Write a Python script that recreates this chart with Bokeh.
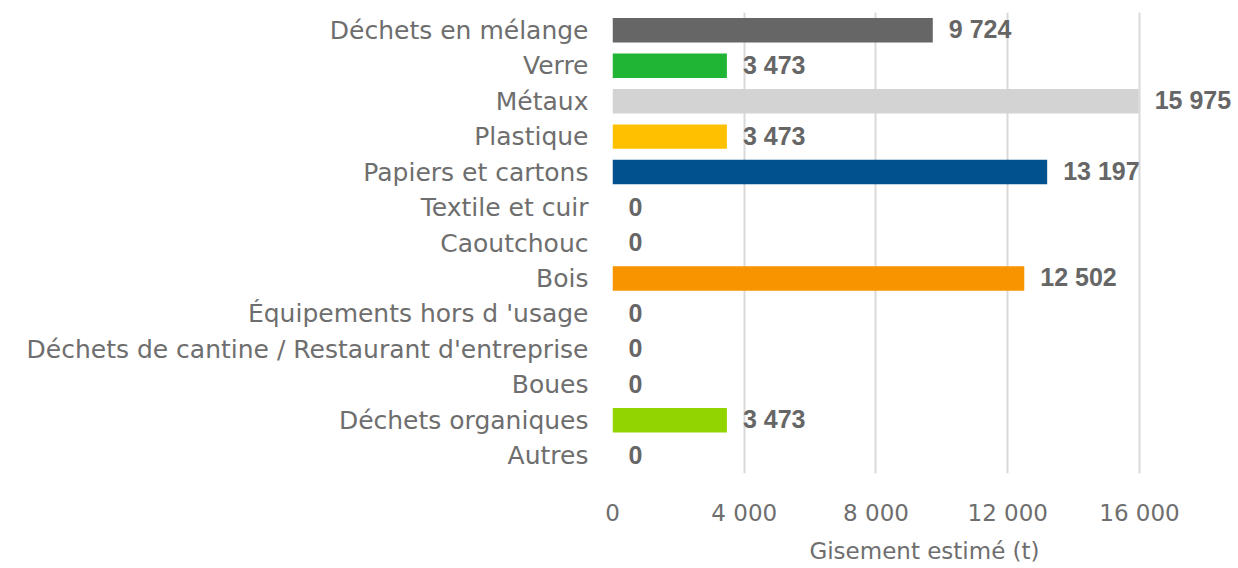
from bokeh.plotting import figure
from bokeh.models import ColumnDataSource, FactorRange, Range1d, FixedTicker, LabelSet, CustomJSTickFormatter
from bokeh.core.properties import value
from bokeh.embed import file_html
from bokeh.resources import INLINE

categories = ["Déchets en mélange", "Verre", "Métaux", "Plastique", "Papiers et cartons",
              "Textile et cuir", "Caoutchouc", "Bois", "Équipements hors d 'usage",
              "Déchets de cantine / Restaurant d'entreprise", "Boues", "Déchets organiques", "Autres"]
values = [9724, 3473, 15975, 3473, 13197, 0, 0, 12502, 0, 0, 0, 3473, 0]
colors = ["#666666", "#20B534", "#D3D3D3", "#FFC000", "#02518F", "#666666", "#666666",
          "#F79400", "#666666", "#666666", "#666666", "#92D400", "#666666"]
labels = ["9 724", "3 473", "15 975", "3 473", "13 197", "0", "0", "12 502", "0", "0", "0", "3 473", "0"]
x_ticks = [0, 4000, 8000, 12000, 16000]

src = ColumnDataSource(dict(cat=categories, val=values, col=colors, lab=labels))

p = figure(width=1236, height=566, y_range=FactorRange(*reversed(categories), range_padding=0),
           x_range=Range1d(0, 18945), output_backend="svg", toolbar_location=None,
           min_border_left=612, min_border_right=0, min_border_top=12, min_border_bottom=84)
p.hbar(y="cat", right="val", height=0.69, fill_color="col", line_color=None, source=src)

ls = LabelSet(x="val", y="cat", text="lab", source=src, x_offset=16, y_offset=1,
              text_baseline="middle", text_font=value("Liberation Sans"), text_font_style="bold",
              text_font_size=value("25px"), text_color="#666666")
p.add_layout(ls)

p.outline_line_color = None
p.ygrid.grid_line_color = None
p.xgrid.grid_line_color = "#D9D9D9"
p.xgrid.grid_line_width = 2
p.xaxis.ticker = FixedTicker(ticks=x_ticks)
p.xaxis.formatter = CustomJSTickFormatter(code="return tick == 0 ? '0' : (tick/1000).toFixed(0) + '\u00a0000';")
p.xaxis.axis_line_color = None
p.xaxis.major_tick_line_color = None
p.xaxis.major_tick_out = 0
p.xaxis.minor_tick_line_color = None
p.xaxis.minor_tick_out = 0
p.xaxis.major_label_standoff = 26
p.xaxis.major_label_text_font = "DejaVu Sans"
p.xaxis.major_label_text_font_size = "23px"
p.xaxis.major_label_text_color = "#6E6E6E"
p.xaxis.axis_label = "Gisement estimé (t)"
p.xaxis.axis_label_text_font = "DejaVu Sans"
p.xaxis.axis_label_text_font_style = "normal"
p.xaxis.axis_label_text_font_size = "23px"
p.xaxis.axis_label_text_color = "#6E6E6E"
p.xaxis.axis_label_standoff = 9

p.yaxis.axis_line_color = None
p.yaxis.major_tick_line_color = None
p.yaxis.major_tick_out = 0
p.yaxis.minor_tick_out = 0
p.yaxis.major_label_standoff = 24
p.yaxis.major_label_text_font = "DejaVu Sans"
p.yaxis.major_label_text_font_size = "25px"
p.yaxis.major_label_text_color = "#6E6E6E"

open("out.html", "w").write(file_html(p, INLINE))
